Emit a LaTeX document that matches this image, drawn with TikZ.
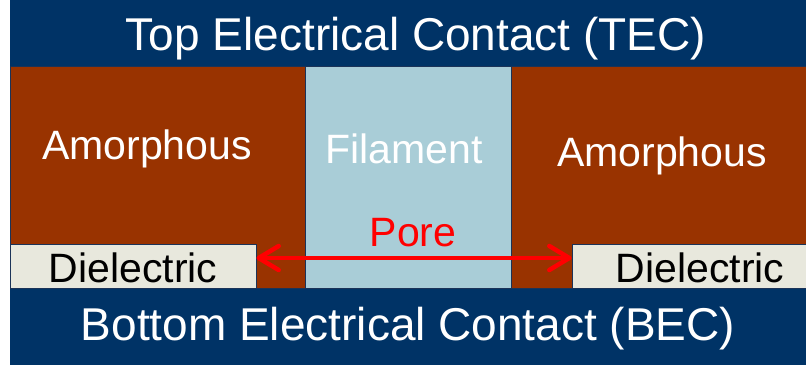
\documentclass[tikz,border=0pt]{standalone}
\usepackage{fontspec}
\setmainfont{Liberation Sans}
\usetikzlibrary{arrows.meta}

\begin{document}
\begin{tikzpicture}[x=1pt, y=-1pt,
    label/.style={inner sep=0pt, anchor=base, text=white},
    bigtext/.style={font=\fontsize{46}{50}\selectfont},
    smalltext/.style={font=\fontsize{41}{45}\selectfont},
    region/.style={draw=borderColour, line width=0.9pt},
    dielbox/.style={region, fill=fillColourD, inner sep=0pt},
    porearrow/.style={draw=red, line width=4.5pt,
        {Straight Barb[length=20pt,width=24pt,round]}-{Straight Barb[length=20pt,width=24pt,round]}}]

    \definecolor{borderColour}{HTML}{1B3358}
    \definecolor{fillColourC}{HTML}{003366}
    \definecolor{fillColourA}{HTML}{993300}
    \definecolor{fillColourF}{HTML}{A9CDD7}
    \definecolor{fillColourD}{HTML}{E8E8DD}

    % Picture size
    \useasboundingbox[fill=white] (0,0) rectangle (806,368);

    % Draw contacts
    \fill[fillColourC] (10,0) rectangle (806,66);
    \fill[fillColourC] (10,288) rectangle (806,365);

    % Draw amorphous parts and filament
    \filldraw[region, fill=fillColourA] (10,66) rectangle (305,288);
    \filldraw[region, fill=fillColourF] (305,66) rectangle (511,288);
    \filldraw[region, fill=fillColourA] (511,66) rectangle (806,288);

    % Draw dielectric boxes
    \node[dielbox, minimum width=246, minimum height=44] (dielL) at (133,266) {};
    \node[dielbox, minimum width=234, minimum height=44] (dielR) at (689,266) {};

    % Labels
    \node[label, bigtext] (tec) at (416,50) {Top Electrical Contact (TEC)};
    \node[label, bigtext] (bec) at (408,340) {Bottom Electrical Contact (BEC)};
    \node[label, smalltext] (amorL) at (147,159) {Amorphous};
    \node[label, smalltext] (fil) at (404,163) {Filament};
    \node[label, smalltext] (amorR) at (662,166) {Amorphous};
    \node[label, smalltext, text=black] (dtextL) at (133,282) {Dielectric};
    \node[label, smalltext, text=black] (dtextR) at (700,282) {Dielectric};
    \node[label, smalltext, text=red] (pore) at (413,246) {Pore};

    % Pore width
    \draw[porearrow] ([yshift=8pt]dielL.east) -- ([yshift=8pt]dielR.west);

\end{tikzpicture}
\end{document}
